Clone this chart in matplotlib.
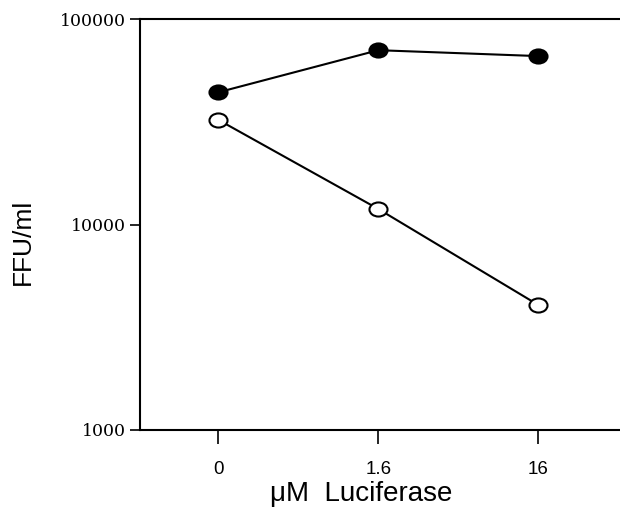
import numpy as np
import matplotlib.pyplot as plt
from matplotlib.path import Path
from matplotlib.transforms import Affine2D

# data
conc_labels = ['0', '1.6', '16']
filled_vals = [44000, 70500, 66000]
open_vals = [32300, 11900, 4060]

x = np.arange(len(conc_labels))

# slightly flattened circle, like the scanned symbols
oval = Path.unit_circle().transformed(Affine2D().scale(1.0, 0.78))

fig = plt.figure(figsize=(6.2, 5.16), dpi=100)
ax = fig.add_axes([140/620, 1 - 430/516, 1 - 140/620 + 0.01, (430 - 19)/516])

ax.plot(x, filled_vals, '-', marker=oval, color='black', lw=1.5, ms=13,
        markerfacecolor='black', markeredgecolor='black', markeredgewidth=1.5)
ax.plot(x, open_vals, '-', marker=oval, color='black', lw=1.5, ms=13,
        markerfacecolor='white', markeredgecolor='black', markeredgewidth=1.5)

ax.set_yscale('log')
ax.set_ylim(1000, 100000)
ax.set_xlim(-0.49, 2.55)
ax.set_yticks([1000, 10000, 100000])
ax.set_yticklabels(['1000', '10000', '100000'], family='DejaVu Serif', fontsize=12.5)
ax.yaxis.set_minor_locator(plt.NullLocator())
ax.set_xticks(x)
ax.set_xticklabels(conc_labels, family='Liberation Sans', fontsize=13.5)

ax.spines['right'].set_visible(False)
for s in ['left', 'top', 'bottom']:
    ax.spines[s].set_linewidth(1.5)
ax.tick_params(axis='y', direction='out', length=7, width=1.2, pad=3)
ax.tick_params(axis='x', direction='out', length=10, width=1.2, pad=12)

ax.set_ylabel('FFU/ml', family='Liberation Sans', fontsize=19)
ax.yaxis.set_label_coords((23 - 140)/(620 - 140 + 6.2), 1 - (242 - 19)/411)
ax.set_xlabel('\u03bcM  Luciferase', family='Liberation Sans', fontsize=20)
ax.xaxis.set_label_coords((361 - 140)/(620 - 140 + 6.2), -(494 - 430)/411)
ax.xaxis.label.set_va('center')
ax.yaxis.label.set_va('center')

fig.savefig('out.png', dpi=100)
